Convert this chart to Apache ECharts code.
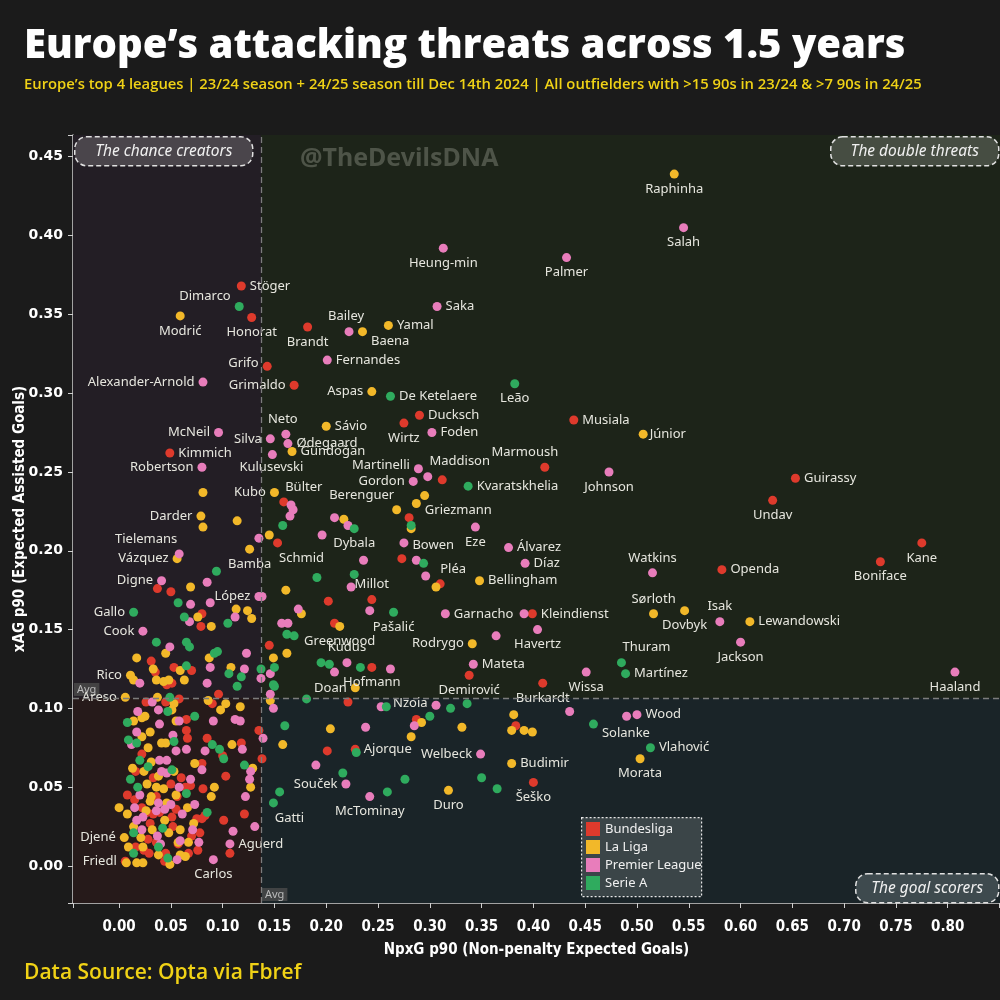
<!DOCTYPE html>
<html><head><meta charset="utf-8">
<script src="https://cdn.jsdelivr.net/npm/echarts@6/dist/echarts.min.js"></script>
<style>html,body{margin:0;padding:0;background:#1b1b1b}#c{width:1000px;height:1000px}</style>
</head><body><div id="c"></div>
<script>
// ---------- DATA ----------
const leagues = ['Bundesliga', 'La Liga', 'Premier League', 'Serie A'];
const xTicks = [0, 0.05, 0.1, 0.15, 0.2, 0.25, 0.3, 0.35, 0.4, 0.45, 0.5, 0.55, 0.6, 0.65, 0.7, 0.75, 0.8];
const yTicks = [0, 0.05, 0.1, 0.15, 0.2, 0.25, 0.3, 0.35, 0.4, 0.45];
const avgX = 0.137;   // average NpxG p90
const avgY = 0.1066;  // average xAG p90

const bundesligaNamed = [
 ['Stöger',0.118,0.368],['Honorat',0.128,0.348],['Brandt',0.182,0.342],['Grifo',0.143,0.317],
 ['Grimaldo',0.169,0.305],['Ducksch',0.290,0.286],['Wirtz',0.275,0.281],['Musiala',0.439,0.283],
 ['Marmoush',0.411,0.253],['Kimmich',0.049,0.262],['Guirassy',0.653,0.246],['Undav',0.631,0.232],
 ['Bülter',0.159,0.231],['Schmid',0.153,0.205],['Pléa',0.310,0.179],['Millot',0.244,0.169],
 ['Openda',0.582,0.188],['Kane',0.775,0.205],['Boniface',0.735,0.193],['Kleindienst',0.399,0.160],
 ['Hofmann',0.244,0.126],['Demirović',0.338,0.121],['Burkardt',0.409,0.116],['Šeško',0.400,0.053],
 ['Ajorque',0.228,0.074],['Friedl',0.006,0.003]
];
const bundesligaOther = [
 [0.058,0.106],[0.096,0.109],[0.090,0.103],[0.026,0.104],[0.045,0.104],[0.065,0.093],[0.065,0.086],
 [0.066,0.081],[0.085,0.081],[0.100,0.070],[0.118,0.078],[0.135,0.086],[0.022,0.071],[0.138,0.068],
 [0.016,0.060],[0.033,0.056],[0.060,0.056],[0.080,0.065],[0.103,0.057],[0.081,0.049],[0.050,0.052],
 [0.064,0.050],[0.069,0.051],[0.008,0.045],[0.036,0.044],[0.056,0.044],[0.015,0.042],[0.022,0.037],
 [0.027,0.034],[0.055,0.036],[0.033,0.033],[0.039,0.034],[0.051,0.031],[0.075,0.030],[0.080,0.030],
 [0.083,0.032],[0.101,0.029],[0.121,0.033],[0.030,0.027],[0.052,0.025],[0.078,0.021],[0.070,0.019],
 [0.028,0.017],[0.036,0.015],[0.076,0.010],[0.024,0.010],[0.016,0.012],[0.057,0.014],[0.107,0.008],
 [0.029,0.008],[0.045,0.008],[0.044,0.003],[0.067,0.008],
 [0.037,0.176],[0.050,0.174],[0.080,0.160],[0.079,0.152],[0.031,0.130],[0.035,0.123],[0.053,0.126],
 [0.070,0.124],[0.046,0.115],[0.051,0.116],
 [0.145,0.140],[0.280,0.221],[0.273,0.195],[0.202,0.168],[0.208,0.154],[0.221,0.104],[0.312,0.245],
 [0.287,0.093],[0.383,0.089],[0.201,0.073]
];

const laLigaNamed = [
 ['Raphinha',0.536,0.439],['Modrić',0.059,0.349],['Yamal',0.260,0.343],['Baena',0.235,0.339],
 ['Aspas',0.244,0.301],['Sávio',0.200,0.279],['Júnior',0.506,0.274],['Gündoğan',0.167,0.263],
 ['Kubo',0.150,0.237],['Berenguer',0.295,0.235],['Griezmann',0.287,0.230],['Darder',0.079,0.222],
 ['Vázquez',0.056,0.195],['Bellingham',0.348,0.181],['Bamba',0.126,0.201],['Sørloth',0.516,0.160],
 ['Dovbyk',0.546,0.162],['Lewandowski',0.609,0.155],['Rodrygo',0.341,0.141],['Greenwood',0.213,0.152],
 ['Doan',0.228,0.113],['Rico',0.011,0.121],['Areso',0.006,0.107],['Morata',0.503,0.068],
 ['Budimir',0.379,0.065],['Duro',0.318,0.048],['Djené',0.005,0.018]
];
const laLigaOther = [
 [0.037,0.107],[0.086,0.105],[0.103,0.103],[0.117,0.101],[0.053,0.103],[0.146,0.105],[0.051,0.099],
 [0.098,0.099],[0.025,0.095],[0.022,0.094],[0.014,0.092],[0.055,0.092],[0.030,0.085],[0.022,0.082],
 [0.109,0.077],[0.158,0.077],[0.041,0.078],[0.045,0.078],[0.028,0.075],[0.129,0.062],[0.031,0.066],
 [0.013,0.062],[0.024,0.060],[0.053,0.060],[0.038,0.057],[0.073,0.065],[0.127,0.050],[0.092,0.050],
 [0.027,0.052],[0.036,0.050],[0.043,0.049],[0.031,0.044],[0.055,0.045],[0.089,0.044],[0.030,0.041],
 [0.046,0.040],[0.000,0.037],[0.008,0.033],[0.026,0.035],[0.066,0.037],[0.044,0.029],[0.072,0.027],
 [0.014,0.025],[0.032,0.023],[0.048,0.021],[0.059,0.023],[0.021,0.018],[0.057,0.015],[0.067,0.015],
 [0.023,0.012],[0.009,0.012],[0.007,0.002],[0.017,0.002],[0.023,0.002],[0.038,0.007],[0.049,0.001],
 [0.059,0.007],[0.064,0.006],
 [0.081,0.237],[0.081,0.215],[0.114,0.219],[0.069,0.177],[0.113,0.163],[0.124,0.162],[0.128,0.157],
 [0.076,0.158],[0.089,0.152],[0.045,0.135],[0.017,0.132],[0.087,0.132],[0.033,0.125],[0.059,0.124],
 [0.108,0.126],[0.014,0.118],[0.036,0.118],[0.048,0.118],[0.043,0.117],[0.063,0.118],
 [0.145,0.210],[0.217,0.220],[0.268,0.226],[0.282,0.214],[0.306,0.177],[0.161,0.175],[0.176,0.160],
 [0.149,0.132],[0.162,0.135],
 [0.381,0.096],[0.292,0.091],[0.331,0.088],[0.282,0.082],[0.379,0.086],[0.391,0.086],[0.399,0.085],
 [0.204,0.087]
];

const premierNamed = [
 ['Salah',0.545,0.405],['Heung-min',0.313,0.392],['Palmer',0.432,0.386],['Saka',0.307,0.355],
 ['Bailey',0.222,0.339],['Fernandes',0.201,0.321],['Alexander-Arnold',0.081,0.307],['Neto',0.161,0.274],
 ['Foden',0.302,0.275],['McNeil',0.096,0.275],['Silva',0.146,0.271],['Ødegaard',0.163,0.268],
 ['Kulusevski',0.148,0.261],['Robertson',0.080,0.253],['Martinelli',0.289,0.252],['Maddison',0.298,0.247],
 ['Gordon',0.284,0.244],['Johnson',0.473,0.250],['Tielemans',0.058,0.198],['Bowen',0.275,0.205],
 ['Eze',0.344,0.215],['Álvarez',0.376,0.202],['Díaz',0.392,0.192],['Digne',0.041,0.181],
 ['López',0.135,0.171],['Watkins',0.515,0.186],['Isak',0.580,0.155],['Jackson',0.600,0.142],
 ['Wissa',0.451,0.123],['Haaland',0.807,0.123],['Cook',0.023,0.149],['Garnacho',0.315,0.160],
 ['Havertz',0.404,0.150],['Kudus',0.220,0.129],['Mateta',0.342,0.128],['Nzoia',0.306,0.102],
 ['Wood',0.500,0.096],['Welbeck',0.349,0.071],['Souček',0.219,0.052],['McTominay',0.242,0.044],
 ['Aguerd',0.107,0.014],['Carlos',0.091,0.004]
];
const premierOther = [
 [0.032,0.104],[0.146,0.109],[0.018,0.098],[0.038,0.099],[0.112,0.093],[0.117,0.092],[0.039,0.090],
 [0.058,0.092],[0.091,0.092],[0.017,0.085],[0.052,0.083],[0.119,0.074],[0.139,0.081],[0.012,0.077],
 [0.055,0.073],[0.065,0.074],[0.083,0.073],[0.127,0.060],[0.039,0.067],[0.046,0.067],[0.041,0.060],
 [0.046,0.059],[0.069,0.055],[0.080,0.061],[0.126,0.055],[0.122,0.044],[0.058,0.050],[0.020,0.045],
 [0.038,0.040],[0.050,0.039],[0.015,0.037],[0.036,0.035],[0.044,0.036],[0.073,0.039],[0.023,0.031],
 [0.017,0.029],[0.061,0.033],[0.131,0.025],[0.110,0.022],[0.022,0.023],[0.071,0.023],[0.037,0.019],
 [0.059,0.016],[0.040,0.014],[0.077,0.015],[0.056,0.004],
 [0.135,0.208],[0.085,0.180],[0.069,0.166],[0.088,0.167],[0.112,0.158],[0.068,0.155],[0.049,0.139],
 [0.123,0.135],[0.088,0.126],[0.121,0.125],[0.020,0.116],[0.085,0.116],[0.137,0.119],
 [0.166,0.229],[0.168,0.226],[0.165,0.222],[0.208,0.221],[0.221,0.216],[0.196,0.210],[0.287,0.194],
 [0.236,0.194],[0.224,0.177],[0.296,0.184],[0.138,0.171],[0.242,0.162],[0.391,0.160],[0.364,0.146],
 [0.173,0.163],[0.157,0.154],[0.163,0.154],[0.146,0.122],[0.208,0.123],[0.262,0.125],[0.253,0.101],
 [0.149,0.100],[0.435,0.098],[0.490,0.095],[0.285,0.089],[0.238,0.088],[0.190,0.064]
];

const serieANamed = [
 ['Dimarco',0.116,0.355],['De Ketelaere',0.262,0.298],['Leão',0.382,0.306],['Kvaratskhelia',0.337,0.241],
 ['Dybala',0.227,0.214],['Thuram',0.485,0.129],['Martínez',0.489,0.122],['Gallo',0.014,0.161],
 ['Pašalić',0.265,0.161],['Solanke',0.458,0.090],['Vlahović',0.513,0.075],['Gatti',0.149,0.040]
];
const serieAOther = [
 [0.049,0.107],[0.047,0.098],[0.008,0.091],[0.073,0.095],[0.160,0.089],[0.009,0.080],[0.053,0.079],
 [0.090,0.077],[0.097,0.074],[0.101,0.068],[0.017,0.078],[0.121,0.064],[0.020,0.067],[0.028,0.063],
 [0.051,0.061],[0.011,0.055],[0.018,0.050],[0.065,0.046],[0.085,0.034],[0.042,0.024],[0.014,0.021],
 [0.038,0.012],[0.047,0.005],[0.014,0.008],
 [0.094,0.187],[0.057,0.167],[0.105,0.154],[0.063,0.158],[0.036,0.142],[0.065,0.142],[0.068,0.139],
 [0.092,0.135],[0.095,0.136],[0.065,0.127],[0.106,0.122],[0.118,0.120],[0.114,0.114],[0.137,0.125],
 [0.149,0.115],
 [0.158,0.216],[0.282,0.216],[0.294,0.192],[0.191,0.183],[0.227,0.185],[0.162,0.147],[0.169,0.146],
 [0.150,0.126],[0.150,0.114],[0.195,0.129],[0.203,0.128],[0.233,0.126],[0.181,0.106],[0.258,0.101],
 [0.320,0.100],[0.336,0.103],
 [0.300,0.095],[0.229,0.072],[0.216,0.059],[0.276,0.055],[0.350,0.056],[0.365,0.049],[0.259,0.047],
 [0.155,0.047]
];

// label placement (style only): [position, dx, dy]
const labelPlacement = {
 'Raphinha':['bottom',0,0],'Salah':['bottom',0,0],'Heung-min':['bottom',0,0],'Palmer':['bottom',0,0],
 'Stöger':['right',0,0],'Dimarco':['left',0,-10],'Modrić':['bottom',0,0],'Honorat':['bottom',0,0],
 'Saka':['right',0,0],'Bailey':['top',-3,0],'Baena':['right',0,10],'Yamal':['right',0,0],'Brandt':['bottom',0,0],
 'Fernandes':['right',0,0],'Grifo':['left',0,-3],'Grimaldo':['left',0,0],'Alexander-Arnold':['left',0,0],
 'Aspas':['left',0,0],'De Ketelaere':['right',0,0],'Leão':['bottom',0,0],'Neto':['top',-3,0],'Sávio':['right',0,0],
 'Ducksch':['right',0,0],'Wirtz':['bottom',0,0],'Foden':['right',0,0],'Musiala':['right',0,0],'Júnior':['right',-2,0],
 'Lookman':['right',0,7],'Marmoush':['top',-20,0],'McNeil':['left',0,0],'Silva':['left',0,0],'Ødegaard':['right',0,0],
 'Gündoğan':['right',0,0],'Kulusevski':['bottom',-1,-2],'Kimmich':['right',0,0],'Robertson':['left',0,0],
 'Martinelli':['left',0,-4],'Maddison':['top',32,0],'Gordon':['left',0,0],'Kvaratskhelia':['right',0,0],
 'Johnson':['bottom',0,0],'Guirassy':['right',0,0],'Undav':['bottom',0,0],'Kubo':['left',0,0],'Bülter':['top',20,0],
 'Berenguer':['left',-22,0],'Griezmann':['right',0,7],'Darder':['left',0,0],'Tielemans':['top',-33,0],
 'Vázquez':['left',0,0],'Dybala':['bottom',0,0],'Bowen':['right',0,2],'Eze':['bottom',0,0],'Álvarez':['right',0,0],
 'Díaz':['right',0,0],'Bellingham':['right',0,0],'Pléa':['top',13,0],'Schmid':['bottom',24,0],'Bamba':['bottom',0,0],
 'Digne':['left',0,0],'Millot':['top',0,0],'López':['left',0,0],'Watkins':['top',0,0],'Openda':['right',0,0],
 'Kane':['bottom',0,0],'Boniface':['bottom',0,0],'Sørloth':['top',0,0],'Dovbyk':['bottom',0,0],'Isak':['top',0,0],
 'Lewandowski':['right',0,0],'Jackson':['bottom',0,0],'Thuram':['top',25,0],'Martínez':['right',0,0],
 'Wissa':['bottom',0,0],'Haaland':['bottom',0,0],'Gallo':['left',0,0],'Cook':['left',0,0],'Garnacho':['right',0,0],
 'Kleindienst':['right',0,0],'Havertz':['bottom',0,0],'Pašalić':['bottom',0,0],'Rodrygo':['left',0,0],
 'Greenwood':['bottom',0,0],'Kudus':['top',0,0],'Mateta':['right',0,0],'Hofmann':['bottom',0,0],'Doan':['left',0,0],
 'Demirović':['bottom',0,0],'Burkardt':['bottom',0,0],'Rico':['left',0,0],'Areso':['left',0,0],'Nzoia':['left',0,-2],
 'Wood':['right',0,0],'Solanke':['right',0,9],'Vlahović':['right',0,0],'Morata':['bottom',0,0],'Budimir':['right',0,0],
 'Šeško':['bottom',0,0],'Welbeck':['left',0,0],'Ajorque':['right',0,0],'Souček':['left',0,0],'McTominay':['bottom',0,0],
 'Duro':['bottom',0,0],'Gatti':['bottom',16,0],'Aguerd':['right',0,0],'Carlos':['bottom',0,0],'Djené':['left',0,0],
 'Friedl':['left',0,0]
};

// ---------- STYLE ----------
const colors = {'Bundesliga':'#de3a2c','La Liga':'#f2b829','Premier League':'#e87dbb','Serie A':'#2fab5e'};
const X_MIN = -0.0445, X_MAX = 0.8505, Y_MIN = -0.0235, Y_MAX = 0.4638;
const labelFont = '"Noto Sans", sans-serif';
const wideFont = '"DejaVu Sans", Verdana, "Liberation Sans", sans-serif';
const narrowFont = '"Liberation Sans Narrow", "DejaVu Sans Condensed", "Roboto Condensed", "Noto Sans", sans-serif';

function buildData(named, other) {
  const out = other.map(v => ({value: v}));
  named.forEach(([name, x, y]) => {
    const p = labelPlacement[name] || ['right', 0, 0];
    out.push({
      name, value: [x, y],
      label: {show: true, position: p[0], offset: [p[1], p[2]], formatter: name}
    });
  });
  return out;
}
const seriesData = {
  'Bundesliga': buildData(bundesligaNamed, bundesligaOther),
  'La Liga': buildData(laLigaNamed, laLigaOther),
  'Premier League': buildData(premierNamed, premierOther),
  'Serie A': buildData(serieANamed, serieAOther)
};

const isTick = (v) => Math.abs(v / 0.05 - Math.round(v / 0.05)) < 1e-6;

const chart = echarts.init(document.getElementById('c'), null, {renderer: 'canvas'});

const quadStyle = (c) => ({color: c, opacity: 1});

const series = [
  {
    type: 'scatter', name: 'quadrants', data: [], z: 0, silent: true,
    markArea: {
      silent: true, precision: 5,
      data: [
        [{coord: [X_MIN, avgY], itemStyle: quadStyle('#231e25')}, {coord: [avgX, Y_MAX]}],
        [{coord: [avgX, avgY], itemStyle: quadStyle('#1d2419')}, {coord: [X_MAX, Y_MAX]}],
        [{coord: [X_MIN, Y_MIN], itemStyle: quadStyle('#261a1a')}, {coord: [avgX, avgY]}],
        [{coord: [avgX, Y_MIN], itemStyle: quadStyle('#1a2428')}, {coord: [X_MAX, avgY]}]
      ]
    }
  },
  {
    type: 'scatter', name: 'avg', z: 1, silent: true, symbolSize: 0, clip: false,
    data: [[X_MIN, avgY], [avgX, Y_MIN]],
    label: {show: true, formatter: 'Avg', position: [1, -15], color: '#d8d8d8', fontSize: 11,
            fontFamily: labelFont, backgroundColor: '#4b4b4b', padding: [1, 3]},
    markLine: {
      silent: true, symbol: 'none', precision: 5, label: {show: false},
      lineStyle: {type: [6, 4], color: '#7c7c7c', width: 1.3},
      data: [{xAxis: avgX}, {yAxis: avgY}]
    }
  }
];
leagues.forEach(lg => {
  series.push({
    type: 'scatter', name: lg, z: 3, symbolSize: 9,
    itemStyle: {color: colors[lg], opacity: 1},
    label: {show: false, color: '#e6e6de', fontSize: 13, fontFamily: labelFont, distance: 4},
    emphasis: {disabled: true},
    data: seriesData[lg]
  });
});

const boxText = (txt, w, fill) => ([
  {type: 'rect', z: 100, shape: {x: 0, y: 0, width: w, height: 29, r: 12},
   style: {fill: fill, stroke: '#e0e0e0', lineWidth: 1.5, lineDash: [5, 3]}},
  {type: 'text', z: 101, x: w / 2, y: 15, style: {text: txt, fill: '#f0f0f0',
   font: 'italic 15.5px "Noto Sans", sans-serif', align: 'center', verticalAlign: 'middle'}}
]);

const option = {
  backgroundColor: '#1b1b1b',
  animation: false,
  title: [
    {text: 'Europe’s attacking threats across 1.5 years', left: 24, top: 27, padding: 0,
     textStyle: {color: '#ffffff', fontSize: 40, fontWeight: 800, fontFamily: '"Open Sans", sans-serif'}},
    {text: 'Europe’s top 4 leagues | 23/24 season + 24/25 season till Dec 14th 2024 | All outfielders with >15 90s in 23/24 & >7 90s in 24/25',
     left: 24, top: 77, padding: 0,
     textStyle: {color: '#f0d216', fontSize: 14.8, fontWeight: 600, fontFamily: '"Open Sans", sans-serif'}},
    {text: 'Data Source: Opta via Fbref', left: 24, top: 963, padding: 0,
     textStyle: {color: '#f0d216', fontSize: 21, fontWeight: 600, fontFamily: '"Open Sans", sans-serif'}}
  ],
  legend: {
    data: leagues, orient: 'vertical', left: 584, top: 820, z: 20,
    icon: 'rect', itemWidth: 14, itemHeight: 14, itemGap: 4, padding: 2,
    textStyle: {color: '#f0f0f0', fontSize: 13, fontFamily: labelFont},
    selectedMode: false
  },
  grid: {left: 73, right: 0, top: 135, bottom: 97, containLabel: false, outerBoundsMode: 'none'},
  xAxis: {
    type: 'value', min: X_MIN, max: X_MAX, splitNumber: 18,
    splitLine: {show: false},
    axisLine: {show: true, onZero: false, lineStyle: {color: '#d0d0d0', width: 1.5}},
    axisTick: {show: true, length: 5, lineStyle: {color: '#d0d0d0'}},
    axisLabel: {color: '#ffffff', fontSize: 15, fontWeight: 'bold', fontFamily: narrowFont,
                margin: 17, formatter: v => (isTick(v) && v >= 0 && v <= 0.8001) ? v.toFixed(2) : ''},
    name: 'NpxG p90 (Non-penalty Expected Goals)', nameLocation: 'middle', nameGap: 40,
    nameTextStyle: {color: '#ffffff', fontSize: 15, fontWeight: 'bold', fontFamily: narrowFont}
  },
  yAxis: {
    type: 'value', min: Y_MIN, max: Y_MAX, splitNumber: 10,
    splitLine: {show: false},
    axisLine: {show: true, onZero: false, lineStyle: {color: '#d0d0d0', width: 1.5}},
    axisTick: {show: true, length: 5, lineStyle: {color: '#d0d0d0'}},
    axisLabel: {color: '#ffffff', fontSize: 14, fontWeight: 'bold', fontFamily: wideFont,
                margin: 10, formatter: v => (isTick(v) && v >= 0) ? v.toFixed(2) : ''}
  },
  graphic: [
    {type: 'text', x: 20, y: 519, rotation: Math.PI / 2, z: 50, silent: true,
     style: {text: 'xAG p90 (Expected Assisted Goals)', fill: '#ffffff', align: 'center', verticalAlign: 'middle',
             font: 'bold 15px "Liberation Sans Narrow", "DejaVu Sans Condensed", "Noto Sans", sans-serif'}},
    {type: 'text', left: 300, top: 146, z: 50, silent: true,
     style: {text: '@TheDevilsDNA', fill: '#4e5448', font: 'bold 25px "Noto Sans", sans-serif'}},
    {type: 'group', left: 74, top: 136, z: 100, children: boxText('The chance creators', 178, '#4a454b')},
    {type: 'group', left: 830, top: 136, z: 100, children: boxText('The double threats', 168, '#464d42')},
    {type: 'group', left: 855, top: 873, z: 100, children: boxText('The goal scorers', 143, '#3e4a4e')},
    {type: 'rect', left: 581, top: 817, z: 8, silent: true,
     shape: {x: 0, y: 0, width: 120, height: 79},
     style: {fill: '#3b4548', stroke: '#e8e8e8', lineWidth: 1.2, lineDash: [2, 2]}}
  ],
  series
};
chart.setOption(option);
</script>
</body></html>
